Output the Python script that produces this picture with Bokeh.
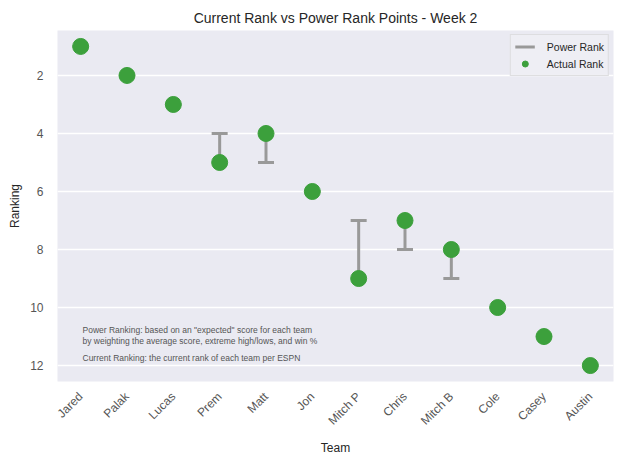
from bokeh.plotting import figure
from bokeh.models import Range1d, Label, Legend, LegendItem, FixedTicker, ColumnDataSource
from bokeh.embed import file_html
from bokeh.resources import INLINE

teams = ["Jared", "Palak", "Lucas", "Prem", "Matt", "Jon", "Mitch P", "Chris", "Mitch B", "Cole", "Casey", "Austin"]
actual_rank = [1, 2, 3, 5, 4, 6, 9, 7, 8, 10, 11, 12]
power_rank = [1, 2, 3, 4, 5, 6, 7, 8, 9, 10, 11, 12]
y_ticks = [2, 4, 6, 8, 10, 12]

src = ColumnDataSource(data=dict(team=teams, actual=actual_rank, power=power_rank))

font = "Liberation Sans"
gray_txt = "#555555"

p = figure(x_range=teams, y_range=Range1d(12.55, 0.45),
           frame_width=556, frame_height=351,
           output_backend="svg", toolbar_location=None,
           title="Current Rank vs Power Rank Points - Week 2")
p.margin = (3, 0, 0, 5)

p.background_fill_color = "#eaeaf2"
p.outline_line_color = None
p.title.align = "center"
p.title.text_font = font
p.title.text_font_size = "14px"
p.title.text_font_style = "normal"
p.title.text_color = "#262626"
p.title.standoff = 9

# error bars from actual rank to power rank, cap at the power rank end
bars = p.segment(x0="team", y0="actual", x1="team", y1="power", source=src,
                 line_color="#999999", line_width=3)
p.scatter(x="team", y="power", source=src, marker="dash", size=16,
          line_color="#999999", line_width=3)
dots = p.scatter(x="team", y="actual", source=src, size=16,
                 fill_color="#3ca03c", line_color="#3ca03c")

legend = Legend(items=[LegendItem(label="Power Rank", renderers=[bars]),
                       LegendItem(label="Actual Rank", renderers=[dots])],
                location="top_right")
legend.label_text_font = font
legend.label_text_font_size = "10.5px"
legend.label_text_color = "#262626"
legend.background_fill_color = "#eeeef4"
legend.background_fill_alpha = 0.9
legend.border_line_color = "#cccccc"
legend.glyph_width = 20
legend.glyph_height = 15
legend.label_height = 15
legend.label_standoff = 12
legend.spacing = 2
legend.padding = 4
legend.margin = 4
p.add_layout(legend)

p.xgrid.grid_line_color = None
p.ygrid.grid_line_color = "white"
p.ygrid.grid_line_width = 1.5
p.yaxis.ticker = FixedTicker(ticks=y_ticks)

for ax in (p.xaxis, p.yaxis):
    ax.axis_line_color = None
    ax.major_tick_line_color = None
    ax.minor_tick_line_color = None
    ax.major_tick_out = 0
    ax.major_tick_in = 0
    ax.major_label_text_font = font
    ax.major_label_text_font_size = "12px"
    ax.major_label_text_color = gray_txt
    ax.axis_label_text_font = font
    ax.axis_label_text_font_size = "12px"
    ax.axis_label_text_font_style = "normal"
    ax.axis_label_text_color = "#262626"

p.xaxis.major_label_orientation = 0.785
p.xaxis.major_label_standoff = 13
p.yaxis.major_label_standoff = 14
p.xaxis.axis_label = "Team"
p.yaxis.axis_label = "Ranking"

notes = ['Power Ranking: based on an "expected" score for each team',
         "by weighting the average score, extreme high/lows, and win %",
         "Current Ranking: the current rank of each team per ESPN"]
note_y = [47, 35.5, 18.5]
for t, yy in zip(notes, note_y):
    p.add_layout(Label(x=25, y=yy, x_units="screen", y_units="screen", text=t,
                       text_font=font, text_font_size="8.5px", text_color=gray_txt))

open("out.html", "w").write(file_html(p, INLINE))
